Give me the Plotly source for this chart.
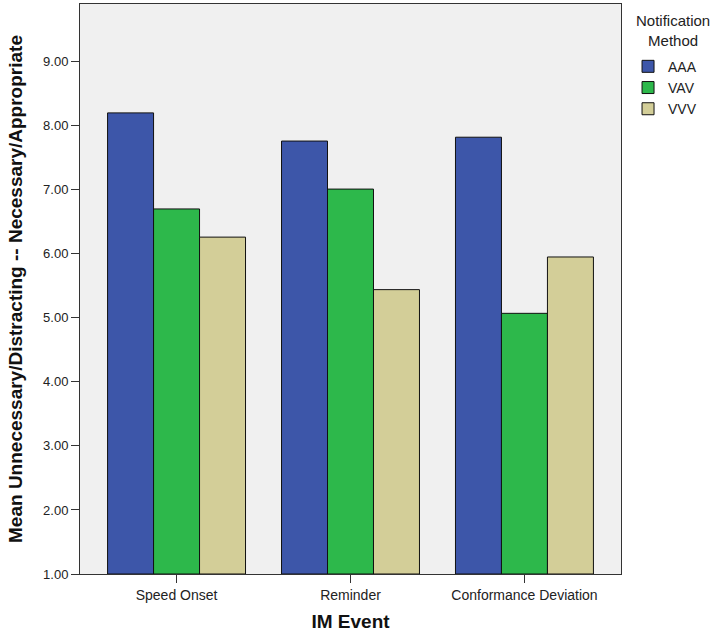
import plotly.graph_objects as go

categories = ["Speed Onset", "Reminder", "Conformance Deviation"]
series_names = ["AAA", "VAV", "VVV"]
aaa = [8.20, 7.76, 7.82]
vav = [6.70, 7.01, 5.07]
vvv = [6.26, 5.44, 5.95]
colors = ["#3D56A9", "#2DB84B", "#D3CE98"]
y_ticks = [1, 2, 3, 4, 5, 6, 7, 8, 9]
y_tick_labels = ["1.00", "2.00", "3.00", "4.00", "5.00", "6.00", "7.00", "8.00", "9.00"]
legend_title = "Notification<br>Method"

fig = go.Figure()
for name, vals, col in zip(series_names, [aaa, vav, vvv], colors):
    fig.add_trace(go.Bar(
        x=categories, y=[v - 1 for v in vals], base=1, name=name,
        marker=dict(color=col, line=dict(color="#111111", width=1)),
    ))

fig.add_annotation(
    text=legend_title, xref="paper", yref="paper", x=1.096, y=0.954,
    xanchor="center", yanchor="middle", showarrow=False, align="center",
    font=dict(size=15, color="#222"),
)

fig.update_layout(
    width=719, height=639,
    barmode="group", bargap=0.207, bargroupgap=0,
    plot_bgcolor="#F0F0F0", paper_bgcolor="white",
    margin=dict(l=80, r=98, t=4, b=65, autoexpand=False),
    font=dict(family="Liberation Sans, Arial, sans-serif", size=12, color="#222"),
    legend=dict(
        x=1.013, y=0.918, xanchor="left", yanchor="top",
        font=dict(size=14), itemwidth=30, tracegroupgap=0,
        bgcolor="rgba(0,0,0,0)",
    ),
    xaxis=dict(
        range=[-0.555, 2.555], automargin=False,
        title=dict(text="<b>IM Event</b>", font=dict(size=19, color="#111"), standoff=12),
        showline=True, linecolor="#333", linewidth=1, mirror=True,
        ticks="outside", ticklen=8, tickcolor="#333",
        showgrid=False, tickfont=dict(size=14),
    ),
    yaxis=dict(
        range=[1, 9.9], automargin=False,
        tickvals=y_ticks, ticktext=y_tick_labels,
        title=dict(text="<b>Mean Unnecessary/Distracting -- Necessary/Appropriate</b>",
                   font=dict(size=19, color="#111"), standoff=15),
        showline=True, linecolor="#333", linewidth=1, mirror=True,
        ticks="outside", ticklen=8, tickcolor="#333",
        showgrid=False, zeroline=False, tickfont=dict(size=13),
    ),
)

fig.write_html("out.html", config={"displayModeBar": False},
               post_script="document.body.style.margin='0';")
